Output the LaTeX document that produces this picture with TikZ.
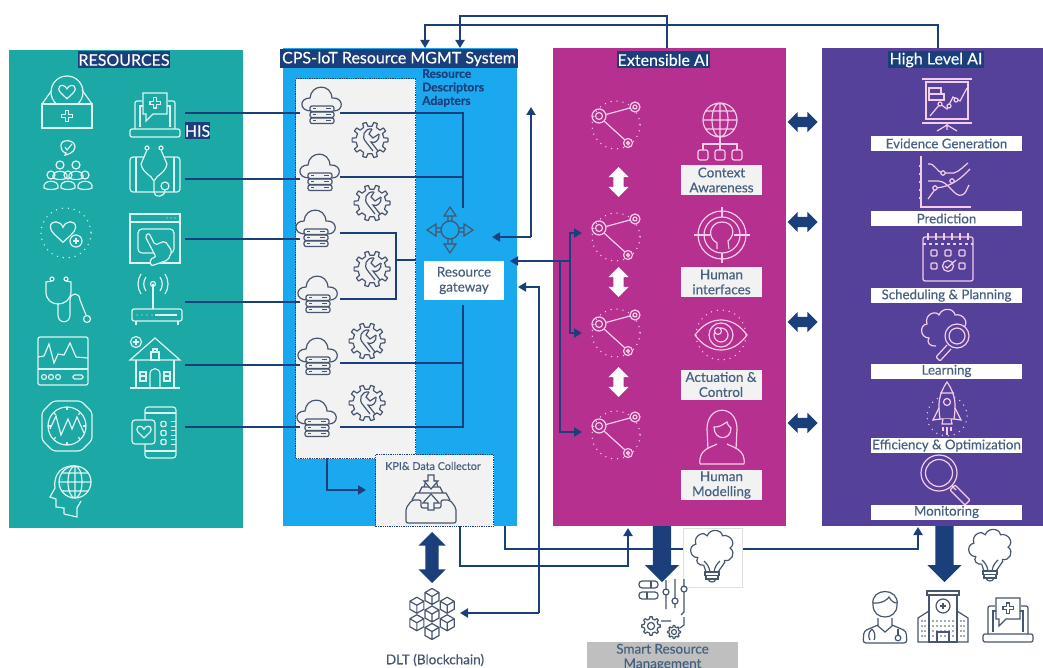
\documentclass[tikz,border=0pt]{standalone}
\usepackage{fontspec}
\setmainfont{Lato}[FakeBold=0.25]
\usetikzlibrary{arrows.meta, shapes.arrows}
\definecolor{navy}{HTML}{1B3F7A}
\definecolor{tealp}{HTML}{1CA8A4}
\definecolor{bluep}{HTML}{1AA8EE}
\definecolor{magp}{HTML}{B5308F}
\definecolor{purp}{HTML}{55409A}
\definecolor{inkb}{HTML}{46607F}
\definecolor{iconw}{HTML}{DDF6F2}
\definecolor{iconm}{HTML}{F6CDE8}
\definecolor{icond}{HTML}{46566F}
\tikzset{
  pics/heart/.style={code={
    \draw (0,9) .. controls (-5,4) and (-11,0) .. (-11,-4) .. controls (-11,-11) and (-2,-10) .. (0,-4)
      .. controls (2,-10) and (11,-11) .. (11,-4) .. controls (11,0) and (5,4) .. (0,9) -- cycle;}},
  pics/plus/.style={code={
    \draw (-2,-6) -- (2,-6) -- (2,-2) -- (6,-2) -- (6,2) -- (2,2) -- (2,6) -- (-2,6) -- (-2,2) -- (-6,2) -- (-6,-2) -- (-2,-2) -- cycle;}},
  pics/gear/.style={code={
    \draw[line join=round] (-12:10) foreach \a in {0,45,...,315} {-- (\a-12:10) -- (\a-7:13) -- (\a+7:13) -- (\a+12:10)} -- cycle;
    \draw (0,0) circle (5);}},
  pics/wrenchgear/.style={code={
    \draw[line join=round] (-9:14) foreach \a in {0,36,...,324} {-- (\a-9:14) -- (\a-6:18) -- (\a+6:18) -- (\a+9:14)} -- cycle;
    \draw (2,-11) .. controls (-6,-12) and (-9,-3) .. (-4,2) -- (3,11);
    \draw (9,-6) .. controls (10,0) and (5,4) .. (1,2) -- (8,11);
    \draw (2,-11) -- (-1,-6) -- (3,-2) -- (9,-6);}},
  pics/cloudsrv/.style={code={
    \draw (-11,6) .. controls (-23,6) and (-23,-7) .. (-12,-7) .. controls (-11,-21) and (9,-22) .. (10,-7)
      .. controls (22,-8) and (22,6) .. (12,6);
    \foreach \y in {1,7,13} {
      \draw[rounded corners=2] (-12,\y) rectangle (12,\y+5.5);
      \draw (-9,\y+2.7) -- (-6,\y+2.7) (4,\y+2.7) -- (9,\y+2.7);}}},
  pics/net/.style={code={
    \draw[dotty] (17,9) circle (24);
    \draw (0,0) circle (7) circle (3.5);
    \draw (36,-9) circle (5) circle (2);
    \draw (29,27) circle (4.5) circle (1.5);
    \draw (7,-1.5) -- (31,-8) (5,5) -- (26,24);}},
  pics/person/.style={code={
    \draw (0,-6) circle (4);
    \draw (-7,7) .. controls (-9,-2) and (9,-2) .. (7,7) .. controls (4,9) and (-4,9) .. (-7,7) -- cycle;}},
  pics/medbox/.style={code={
    \draw (0,-10) circle (16);
    \pic[scale=.75] at (0,-10) {heart};
    \draw[fill=tealp] (-25,2) rectangle (25,26);
    \draw (-25,2) -- (-15,-12) (25,2) -- (15,-12);
    \pic[scale=.9] at (0,14) {plus};}},
  pics/crowd/.style={code={
    \foreach \p/\q in {-8/2,8/2,-17/12,0/12,17/12} {\pic[fill=tealp] at (\p,\q) {person};}
    \draw (-7,-24) .. controls (-7,-30) and (7,-30) .. (7,-22) .. controls (7,-16) and (-2,-14) .. (-3,-14) -- (-2,-16) .. controls (-6,-17) and (-7,-20) .. (-7,-24) -- cycle;
    \draw (-3,-22) -- (-1,-19) -- (4,-25);}},
  pics/heartplus/.style={code={
    \draw[dotty] (0,0) circle (25);
    \pic[scale=1.15] at (-3,-1) {heart};
    \draw[fill=tealp] (10,8) circle (6);
    \draw (7,8) -- (13,8) (10,5) -- (10,11);}},
  pics/stetho/.style={code={
    \draw (-14,-21) circle (2) (0,-21) circle (2);
    \draw (-14,-19) -- (-20,-18) -- (-20,-8) .. controls (-20,8) and (4,8) .. (5,-8) -- (5,-18) -- (0,-19);
    \draw (-8,3) -- (-8,15) .. controls (-8,24) and (4,24) .. (4,15) -- (4,0) .. controls (4,-8) and (14,-8) .. (14,0) -- (20,15);
    \draw (21,19) circle (3.5);}},
  pics/monitor/.style={code={
    \draw[rounded corners=2] (-25,-24) rectangle (25,24);
    \draw (-25,8) -- (25,8);
    \draw (-25,-4) -- (-19,-5) -- (-14,-17) -- (-9,2) -- (-5,-7) -- (1,-6) -- (7,-18) -- (13,-4) -- (25,-3);
    \foreach \p in {-19,-12,-5} {\draw (\p,16) circle (2.5);}
    \draw[rounded corners=1.5] (10,14) rectangle (20,18);}},
  pics/gauge/.style={code={
    \draw[rounded corners=3] (-14,-25) -- (14,-25) -- (25,-14) -- (25,14) -- (14,25) -- (-14,25) -- (-25,14) -- (-25,-14) -- cycle;
    \draw (0,0) circle (19);
    \foreach \a in {0,45,...,315} {\draw (\a:19) -- (\a:16);}
    \draw (-17,3) -- (-11,-10) -- (-6,9) -- (1,-7) -- (5,3) -- (10,-9) -- (17,7);}},
  pics/headglobe/.style={code={
    \draw (-3,23) -- (-3,17) -- (-11,16) -- (-11,8) -- (-17,6) -- (-12,-3) .. controls (-14,-18) and (-4,-26) .. (8,-25);
    \draw (-3,23) -- (10,26) -- (10,17) -- (14,10);
    \draw (8,-9) circle (16);
    \draw (8,-9) ellipse (7 and 16) (-8,-9) -- (24,-9) (8,-25) -- (8,7) (-5,-18) -- (21,-18) (-5,0) -- (21,0);
    \draw[dotty, line width=1] (-5,-12) .. controls (-7,2) and (3,10) .. (14,9);}},
  pics/laptop/.style={code={
    \draw[rounded corners=2] (-20,14) -- (-20,-14) -- (-13,-14) (13,-14) -- (20,-14) -- (20,14);
    \draw (-15,12) -- (-15,-9) -- (-12,-9) (12,-9) -- (15,-9) -- (15,12);
    \draw[rounded corners=2] (-25,14) -- (25,14) -- (25,22) -- (-25,22) -- cycle;
    \draw (-12,-22) -- (12,-22) -- (12,-1) -- (-2,-1) -- (-9,6) -- (-9,-1) -- (-12,-1) -- cycle;
    \pic[scale=.85] at (0,-12) {plus};}},
  pics/phonestet/.style={code={
    \draw[rounded corners=3] (-25,-15) rectangle (25,20);
    \draw (-19,-15) -- (-19,20) (19,-15) -- (19,20);
    \draw (-8,-24) circle (2) (6,-24) circle (2);
    \draw[fill=tealp] (-8,-22) -- (-14,-8) .. controls (-12,2) and (-3,3) .. (-2,8) -- (0,8) .. controls (1,3) and (10,2) .. (12,-8) -- (6,-22);
    \draw (-1,8) -- (-1,20) .. controls (-1,26) and (10,26) .. (10,18);
    \draw[fill=tealp] (10,14) circle (4);}},
  pics/hand/.style={code={
    \draw (-25,-25) rectangle (25,24) (-25,-17) -- (25,-17);
    \foreach \p in {12,16,20} {\fill (\p,-21) circle (.7);}
    \draw[rounded corners=4] (-17,-10) rectangle (19,14);
    \draw[fill=tealp, rounded corners=2] (-10,-3) -- (-6,-6) -- (0,6) -- (10,2) -- (17,12) -- (13,21) -- (-4,27) -- (-5,20) -- (1,18) -- cycle;}},
  pics/router/.style={code={
    \draw[rounded corners=2] (-25,6) rectangle (25,18);
    \draw (-21,18) -- (-21,22) (21,18) -- (21,22) (-4,-19) -- (-4,6);
    \draw (-4,-19) circle (2.5);
    \draw (-11,-12) .. controls (-14,-16) and (-14,-22) .. (-11,-26) (3,-12) .. controls (6,-16) and (6,-22) .. (3,-26);
    \draw (-16,-9) .. controls (-20,-15) and (-20,-23) .. (-16,-29) (8,-9) .. controls (12,-15) and (12,-23) .. (8,-29);
    \draw (-2,12) -- (20,12);
    \foreach \p in {-20,-15,-10,-5} {\fill (\p,12) circle (.7);}}},
  pics/house/.style={code={
    \draw (-25,-4) -- (0,-26) -- (25,-4) -- cycle;
    \draw (-19,-4) -- (-19,24) (19,-4) -- (19,24) (-25,24) -- (25,24);
    \draw (-5,24) -- (-5,10) .. controls (-5,3) and (5,3) .. (5,10) -- (5,24);
    \draw (-15,8) rectangle (-9,17) (9,8) rectangle (15,17) (-15,12) -- (-9,12) (9,12) -- (15,12);
    \draw (-4,-12) rectangle (4,-4) (-2,-12) -- (-2,-15) -- (2,-15) -- (2,-12);
    \draw[fill=tealp] (-19,-22) circle (5.5);
    \draw (-22,-22) -- (-16,-22) (-19,-25) -- (-19,-19);}},
  pics/phoneheart/.style={code={
    \draw[rounded corners=3] (-10,-25) rectangle (21,26);
    \draw (-10,-19) -- (21,-19) (-10,19) -- (21,19);
    \foreach \p in {-8,1,10} {\draw[rounded corners=1] (6,\p-2.5) rectangle (11,\p+2.5);\draw (16,\p-2.5) -- (21,\p-2.5) (16,\p+2.5) -- (21,\p+2.5);}
    \draw[rounded corners=3, fill=tealp] (-23,-12) rectangle (0,12);
    \pic[scale=.65] at (-11,0) {heart};}},
  pics/gateway/.style={code={
    \draw (0,0) circle (9);
    \foreach \r in {0,90,180,270} {\begin{scope}[rotate=\r]
      \draw (9,-2) -- (14,-2) -- (14,2) -- (9,2) (14,-6) -- (23,0) -- (14,6) -- cycle;
    \end{scope}}}},
  pics/tray/.style={code={
    \draw[rounded corners=2] (-25,10) -- (-25,25) -- (25,25) -- (25,10) -- (19,2) -- (10,2) -- (10,10) -- (-10,10) -- (-10,2) -- (-19,2) -- cycle;
    \draw (-19,2) -- (-15,-5) -- (15,-5) -- (19,2) (-12,-5) -- (-9,-11) -- (9,-11) -- (12,-5) (-7,-11) -- (-5,-17) -- (5,-17) -- (7,-11);
    \draw[fill=black!5] (-3,-23) -- (3,-23) -- (3,-17) -- (7,-17) -- (0,-9) -- (-7,-17) -- (-3,-17) -- cycle;
    \draw[fill=black!5] (0,-4) -- (8,5) -- (3,5) -- (3,12) -- (-3,12) -- (-3,5) -- (-8,5) -- cycle;}},
  pics/cube/.style={code={
    \draw (0,-8) -- (7,-4) -- (7,4) -- (0,8) -- (-7,4) -- (-7,-4) -- cycle (-7,-4) -- (0,0) -- (7,-4) (0,0) -- (0,8);}},
  pics/chain/.style={code={
    \foreach \a in {30,90,...,330} {\pic at (\a:17.5) {cube};}
    \pic at (0,0) {cube};}},
  pics/context/.style={code={
    \draw (0,-10) circle (17) (0,-10) ellipse (8 and 17) (-17,-10) -- (17,-10) (0,-27) -- (0,7) (-14,-19) -- (14,-19) (-14,-1) -- (14,-1);
    \draw (0,7) -- (0,14) (-17,20) -- (-17,14) -- (17,14) -- (17,20) (0,14) -- (0,20);
    \foreach \p in {-17,0,17} {\draw[rounded corners=2] (\p-5,20) rectangle (\p+5,30);}}},
  pics/target/.style={code={
    \draw (0,0) circle (24) circle (18);
    \draw (-28,0) -- (-12,0) (12,0) -- (28,0) (0,-28) -- (0,-18) (0,18) -- (0,28);
    \draw (-5,14) -- (-5,8) .. controls (-16,2) and (-12,-13) .. (0,-13) .. controls (12,-13) and (14,0) .. (6,6) -- (7,14);}},
  pics/eyeball/.style={code={
    \draw[dotty] (0,0) circle (25);
    \draw (-26,0) .. controls (-12,-20) and (12,-20) .. (26,0) .. controls (12,20) and (-12,20) .. (-26,0) -- cycle;
    \draw (0,0) circle (12) circle (7);
    \draw[fill=magp] (-3,-4) circle (3.5);}},
  pics/woman/.style={code={
    \draw (-14,14) -- (-15,-6) .. controls (-15,-31) and (15,-31) .. (15,-6) -- (14,14);
    \draw (-8,-8) .. controls (-3,-7) and (3,-12) .. (5,-13) .. controls (6,-9) and (8,-8) .. (9,-7) .. controls (9,6) and (-8,6) .. (-8,-8) -- cycle;
    \draw (-22,29) .. controls (-24,14) and (-10,12) .. (-5,9) (22,29) .. controls (24,14) and (10,12) .. (5,9) (-22,29) -- (22,29);}},
  pics/present/.style={code={
    \draw (-25,-24) -- (25,-24) (-25,20) -- (25,20);
    \draw (-21,-21) rectangle (21,16);
    \draw (0,20) -- (0,27) (0,22) -- (-10,28) (0,22) -- (10,28);
    \draw (-18,-15) rectangle (-6,-9) (-18,-9) rectangle (-3,-3);
    \draw (-17,13) -- (-7,1) -- (0,6) -- (6,-6) -- (13,-2) -- (20,-15);
    \foreach \p/\q in {-7/1,2/3,9/-3} {\draw[fill=purp] (\p,\q) circle (2);}}},
  pics/predict/.style={code={
    \draw (-25,-26) -- (-25,25) -- (25,25);
    \foreach \q in {-16,-8,0,8,16} {\draw (-27,\q) -- (-25,\q);}
    \draw (-18,-18) .. controls (-10,-19) and (-10,-9) .. (-2,-9) -- (8,-9) .. controls (14,-11) and (18,-16) .. (22,-19);
    \draw (-18,-1) -- (-8,-1) .. controls (3,-1) and (8,16) .. (16,13) .. controls (20,12) and (21,6) .. (23,3);
    \draw (-18,17) -- (-10,6) .. controls (0,5) and (10,2) .. (24,-13);
    \foreach \p/\q in {-3/-9,6/-1,-11/6} {\draw[fill=purp] (\p,\q) circle (2.2);}}},
  pics/calendar/.style={code={
    \draw[rounded corners=2] (-25,-20) rectangle (25,24);
    \draw[dashed] (-25,-13) -- (25,-13);
    \foreach \p in {-20,-12,-4,4,12,20} {\draw (\p,-24) -- (\p,-17);}
    \foreach \p in {-14,14} {\draw[rounded corners=1] (\p-3,-7) rectangle (\p+3,-1);\draw[rounded corners=1] (\p-3,6) rectangle (\p+3,12);}
    \draw[rounded corners=1] (-3,-7) rectangle (3,-1);
    \draw (0,9) circle (5.5) (-3,9) -- (-1,11) -- (8,3);}},
  pics/brainout/.style={code={
    \draw (-8,16) .. controls (-14,17) and (-18,12) .. (-15,8) .. controls (-24,8) and (-25,-5) .. (-17,-6)
      .. controls (-20,-16) and (-8,-20) .. (-5,-15) .. controls (-2,-23) and (10,-22) .. (11,-15)
      .. controls (19,-17) and (26,-7) .. (19,-2) .. controls (26,3) and (20,13) .. (13,11) -- (13,13);}},
  pics/brainmag/.style={code={
    \pic at (-4,-5) {brainout};
    \draw[fill=purp] (9,1) circle (12) circle (8);
    \draw[rounded corners=1] (-1,10) -- (-12,22) -- (-8,26) -- (3,14);}},
  pics/rocket/.style={code={
    \draw[dotty] (0,5) circle (20);
    \draw[fill=purp] (0,-29) .. controls (-9,-16) and (-9,-6) .. (-7,8) -- (7,8) .. controls (9,-6) and (9,-16) .. (0,-29) -- cycle;
    \draw (-8,-3) -- (-14,9) -- (-7,8) (8,-3) -- (14,9) -- (7,8) (-7,-18) -- (7,-18);
    \draw (0,-9) circle (3.5);
    \draw[fill=purp] (-4,8) -- (-5,13) -- (5,13) -- (4,8);
    \draw (-4,16) -- (-4,20) (0,16) -- (0,24) (4,16) -- (4,20);}},
  pics/mag/.style={code={
    \draw (-6,-7) circle (18) circle (13.5);
    \draw (7,6) -- (11,10);
    \draw[rounded corners=1] (10,5) -- (25,20) -- (20,25) -- (5,10) -- cycle;}},
  pics/bulb/.style={code={
    \pic[scale=.95] at (0,-6) {brainout};
    \draw (-8,10) -- (-6,16) -- (6,16) -- (13,6);
    \draw (-2,16) .. controls (-3,10) and (-5,8) .. (-8,5) (2,16) .. controls (3,10) and (5,8) .. (8,5);
    \draw[fill=white] (-7,16) rectangle (7,19.5) (-6,19.5) rectangle (6,23);
    \draw (-4,23) .. controls (-3,27) and (3,27) .. (4,23);}},
  pics/smart/.style={code={
    \draw[rounded corners=3] (-25,-24) rectangle (-6,-17) (-25,-13) rectangle (-6,-6);
    \draw (-13,-24) -- (-13,-17) (-17,-13) -- (-17,-6);
    \draw (2,-25) -- (2,-16) (2,-10) -- (2,4) (11,-26) -- (11,-7) (11,-1) -- (11,3) (20,-26) -- (20,-19) (20,-13) -- (20,7) -- (17,10);
    \draw (2,-13) circle (3) (11,-4) circle (3) (20,-16) circle (3);}},
  pics/doctor/.style={code={
    \draw (-12,-14) .. controls (-15,-32) and (15,-32) .. (12,-14) .. controls (12,2) and (-12,2) .. (-12,-14) -- cycle;
    \draw (-12,-16) .. controls (-3,-15) and (3,-20) .. (4,-22) .. controls (6,-18) and (9,-16) .. (12,-16);
    \draw (-7,-1) -- (-7,7) -- (0,13) -- (7,7) -- (7,-1);
    \draw[rounded corners=3] (-7,6) -- (-21,12) -- (-22,24) -- (22,24) -- (21,12) -- (7,6);
    \draw (-13,10) .. controls (-18,14) and (-16,20) .. (-15,21) (-13,10) .. controls (-9,14) and (-10,20) .. (-11,21);
    \draw (13,10) -- (13,16);
    \draw (13,19) circle (2.8);}},
  pics/hospital/.style={code={
    \draw (-14,-22) rectangle (14,25);
    \draw (-16,-26) rectangle (16,-22);
    \draw (0,-11) circle (7);
    \draw (-3,-11) -- (3,-11) (0,-14) -- (0,-8);
    \draw (-14,-6) -- (-25,1) -- (-25,25) -- (25,25) -- (25,1) -- (14,-6);
    \draw (-6,25) -- (-6,15) -- (6,15) -- (6,25);
    \foreach \p in {-21,-18,-10,-6,-2,2,6,10,18,21} {\foreach \q in {4,9,14,19} {\fill (\p,\q) circle (.8);}}}},
  dotty/.style={line cap=round, dash pattern=on 0pt off 6pt, line width=1.5},
}
\begin{document}
\begin{tikzpicture}[
  x=1pt, y=-1pt,
  panel/.style={anchor=north west, inner sep=0, minimum height=478},
  light/.style={draw=navy, densely dotted, line width=1.3, fill=black!5, anchor=north west, inner sep=0},
  headbar/.style={fill=navy, text=white, font=\fontsize{16}{16}\selectfont, inner sep=0, minimum height=17},
  lbl/.style={fill=black!5, text=inkb, font=\fontsize{13.5}{15}\selectfont, align=center, inner sep=0, minimum width=81, minimum height=30},
  hlbl/.style={fill=white, text=inkb, font=\fontsize{13.3}{14}\selectfont, inner sep=0, minimum width=151, minimum height=15},
  link/.style={draw=navy, line width=2.4},
  linkto/.style={link, -{Triangle[length=8pt, width=9pt]}},
  updown/.style={single arrow, draw=none, fill=navy, rotate=-90, minimum height=56, inner sep=9, single arrow head extend=8, anchor=west},
  icw/.style={color=iconw, line width=1.2},
  icm/.style={color=iconm, line width=1.2},
  icd/.style={color=icond, line width=1.2},
  twoway/.style={double arrow, draw=none, inner sep=#1, double arrow head extend=5, minimum width=20, minimum height=30},
]
  \clip (0,0) rectangle (1043,668);
  \fill[white] (0,0) rectangle (1043,668);

  \node[panel, fill=tealp, minimum width=234] (res) at (9,50) {};
  \node[panel, fill=bluep, minimum width=234] (cps) at (283,48) {};
  \node[panel, fill=magp, minimum width=233] (ext) at (553,48) {};
  \node[panel, fill=purp, minimum width=221] (high) at (822,48) {};
  \node[light, minimum width=120, minimum height=380] (adapters) at (295,78) {};
  \node[light, minimum width=118, minimum height=72] (kpi) at (375,454) {};

  \node[headbar, minimum width=90] (reshead) at (124,60) {RESOURCES};
  \node[headbar, minimum width=238, minimum height=19] (cpshead) at (399,59) {CPS-IoT Resource MGMT System};
  \node[headbar, minimum width=93] (exthead) at (663.5,60) {Extensible AI};
  \node[headbar, minimum width=96] (highhead) at (936,60) {High Level AI};
  \node[headbar, minimum width=25] (his) at (197.5,131) {HIS};
  \node[text=navy, font=\fontsize{12}{13.5}\selectfont\bfseries, align=left, anchor=north west, inner sep=0] (desc) at (422,69) {Resource\\Descriptors\\Adapters};
  \node[fill=white, text=inkb, font=\fontsize{13.5}{15}\selectfont, align=center, inner sep=0, minimum width=80, minimum height=39] (gw) at (464,280.5) {Resource\\gateway};
  \node[text=inkb, font=\fontsize{10.8}{11}\selectfont, inner sep=0] (kpilab) at (433,466) {KPI\& Data Collector};

  \node[lbl] (lctx) at (721.5,180) {Context\\Awareness};
  \node[lbl] (lhum) at (721.5,282) {Human\\interfaces};
  \node[lbl] (lact) at (721,384.5) {Actuation \&\\Control};
  \node[lbl] (lmod) at (721.5,485) {Human\\Modelling};
  \node[hlbl] (levi) at (946.5,143.5) {Evidence Generation};
  \node[hlbl] (lpre) at (946.5,218.5) {Prediction};
  \node[hlbl] (lsch) at (946.5,295.5) {Scheduling \& Planning};
  \node[hlbl] (llea) at (946.5,371) {Learning};
  \node[hlbl] (leff) at (946.5,445.5) {Efficiency \& Optimization};
  \node[hlbl] (lmon) at (946.5,512) {Monitoring};

  \node[text=icond, font=\fontsize{13.5}{14}\selectfont, inner sep=0] (dlt) at (435,660) {DLT (Blockchain)};
  \node[fill=black!25, text=inkb, font=\fontsize{13.5}{14.5}\selectfont, align=center, inner sep=0, anchor=north, minimum width=151, minimum height=30] (srm) at (662.5,642) {Smart Resource\\Management};

  \pic[icw] at (67,102) {medbox};
  \pic[icw] at (68,169) {crowd};
  \pic[icw] at (66,233) {heartplus};
  \pic[icw] at (66,300) {stetho};
  \pic[icw] at (63,361) {monitor};
  \pic[icw] at (67,426) {gauge};
  \pic[icw] at (67,491) {headglobe};
  \pic[icw] at (155,115) {laptop};
  \pic[icw] at (155,172) {phonestet};
  \pic[icw] at (155,239) {hand};
  \pic[icw] at (157,303) {router};
  \pic[icw] at (155,364) {house};
  \pic[icw] at (155,432) {phoneheart};

  \foreach \p/\q in {322/105,320/172,316/228,318/294,318/356,317/418} {\pic[icd] at (\p,\q) {cloudsrv};}
  \foreach \p/\q in {370/140,372/203,372/269,367/341,367/403} {\pic[icd] at (\p,\q) {wrenchgear};}
  \pic[icd] at (450,230) {gateway};
  \pic[icd] at (431,498) {tray};
  \pic[icd] at (432,614) {chain};

  \foreach \q in {116,228,324,426} {\pic[icm] at (599,\q) {net};}
  \pic[icm] at (720,130) {context};
  \pic[icm] at (722,235) {target};
  \pic[icm] at (721,335) {eyeball};
  \pic[icm] at (722,435) {woman};
  \pic[icm] at (947,103) {present};
  \pic[icm] at (946,182) {predict};
  \pic[icm] at (948,257) {calendar};
  \pic[icm] at (948,335) {brainmag};
  \pic[icm] at (947,411) {rocket};
  \pic[icm] at (945,480) {mag};

  \foreach \n/\ya/\yb in {1/113/113,2/179/177,3/239/233,4/302/299,5/365/363,6/427/427} {
    \coordinate (in\n) at (185,\ya);
    \coordinate (cl\n) at (300,\ya);
    \coordinate (out\n) at (340,\yb);
    \draw[link] (in\n) -- (cl\n);
  }
  \coordinate (gwtop) at (463,208);
  \coordinate (gwbot) at (463,305);
  \coordinate (mid) at (396,299);
  \coordinate (midin) at (396,260);
  \coordinate (midout) at (416,260);
  \draw[link] (out1) -| (gwtop);
  \draw[link] (out2) -- (out2 -| gwtop);
  \draw[link] (out3) -| (mid) -- (out4);
  \draw[link] (midin) -- (midout);
  \draw[link] (out6) -| (gwbot);
  \draw[link] (out5) -- (out5 -| gwbot);

  \coordinate (upa) at (425,25);
  \coordinate (upb) at (460,16);
  \coordinate (upc) at (667,16);
  \coordinate (upd) at (938,25);
  \draw[linkto] (ext.north -| upc) |- (upb) -- (upb |- cps.north);
  \draw[linkto] (high.north -| upd) |- (upa) -- (upa |- cps.north);

  \coordinate (gwin) at (492,237);
  \coordinate (gwbend) at (531,237);
  \coordinate (gwup) at (531,107);
  \draw[linkto] (gwbend) -- (gwin);
  \draw[linkto] (gwbend) -- (gwup);

  \coordinate (gwr) at (510,261);
  \coordinate (busa) at (570,261);
  \coordinate (busb) at (560,261);
  \foreach \n/\q/\b in {a/233/busa,b/333/busa,c/432/busb} {
    \coordinate (net\n) at (582,\q);
    \draw[linkto] (\b) |- (net\n);
  }
  \draw[linkto] (busa) -- (gwr);

  \coordinate (cola) at (327,458);
  \coordinate (colb) at (366,490);
  \draw[linkto] (cola) |- (colb);

  \coordinate (lowa) at (460,526);
  \coordinate (lowb) at (628,566);
  \coordinate (lowc) at (628,528);
  \coordinate (lowd) at (505,526);
  \coordinate (lowe) at (918,549);
  \coordinate (lowf) at (918,527);
  \draw[linkto] (lowa) |- (lowb) -- (lowc);
  \draw[linkto] (lowd) |- (lowe) -- (lowf);

  \coordinate (dlta) at (539,287);
  \coordinate (dltb) at (539,613);
  \coordinate (dltc) at (460,613);
  \coordinate (dltd) at (518,287);
  \draw[linkto] (dltb) -- (dlta) -- (dltd);
  \draw[linkto] (dltb) -- (dltc);

  \node[twoway=5, fill=navy, rotate=90, minimum height=51, minimum width=27, double arrow head extend=7, inner sep=6.5] (dblk) at (432,557.5) {};
  \foreach \q in {122,222,322,423} {\node[twoway=5, fill=navy] (link\q) at (802.5,\q) {};}
  \foreach \q in {182,282,382} {\node[twoway=5, fill=white, rotate=90] (step\q) at (618.5,\q) {};}
  \node[updown, single arrow head extend=8] (dext) at (662,526) {};
  \node[updown, single arrow head extend=8] (dhigh) at (944.5,526) {};

  \node[fill=white, draw=black!12, minimum size=59, inner sep=0] (bulbbox) at (712.5,557.5) {};
  \pic[icd] at (712,556) {bulb};
  \pic[icd] at (990,555) {bulb};
  \pic[icd] at (664,605) {smart};
  \pic[icd, scale=.72] at (651,626) {gear};
  \pic[icd, scale=.5] at (674,632) {gear};
  \draw[icd] (661,621) -- (671,621) (684,617) -- (684,625) -- (680,628);
  \pic[icd] at (885,619) {doctor};
  \pic[icd] at (943,617) {hospital};
  \pic[icd] at (1008,620) {laptop};
\end{tikzpicture}
\end{document}
